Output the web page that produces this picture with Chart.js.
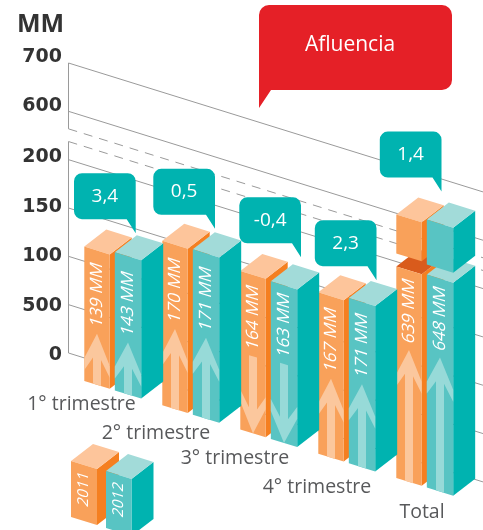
<!DOCTYPE html>
<html><head><meta charset="utf-8">
<style>html,body{margin:0;padding:0;background:#fff}canvas{display:block}</style>
<script src="https://cdn.jsdelivr.net/npm/chart.js@4/dist/chart.umd.js"></script>
</head><body><canvas id="c" width="483" height="530"></canvas>
<script>
const categories = ['1° trimestre','2° trimestre','3° trimestre','4° trimestre','Total'];
const values2011 = [139,170,164,167,639];
const values2012 = [143,171,163,171,648];
const changes = [3.4,0.5,-0.4,2.3,1.4];
const tickValues = [0,50,100,150,200,600,700];
const tickLabels = ['0','500','100','150','200','600','700'];
const breakMarks = [350,455];
const arrowLen2011 = [51,80,77,79,132];
const arrowLen2012 = [52,81,79,83,134];

const FONT = '"Open Sans", Lato, sans-serif';
const SHEAR = 0.311, DEPTH_X = 22, DEPTH_Y = -17, FLOOR_DROP = 23, AXIS_X = 68.5;
const labelShift = [1.8,1.8,-0.2,-0.7,-2.7,-5.7,-6.2];

class BrokenScale extends Chart.LinearScale {
  static id = 'broken';
  static defaults = Chart.LinearScale.defaults;
  getPixelForValue(v){
    const u = v<=200 ? v : v<600 ? 200+(v-200)/8 : 250+(v-600)/2;
    return this.getPixelForDecimal(u/300);
  }
  _computeLabelItems(ca){
    const items = super._computeLabelItems(ca);
    items.forEach((it,i)=>{ const t=it.options.translation; it.options.translation=[t[0],t[1]+labelShift[i]]; });
    return items;
  }
}
Chart.register(BrokenScale);

function poly(ctx,pts,fill){ ctx.beginPath(); pts.forEach((p,i)=>i?ctx.lineTo(p[0],p[1]):ctx.moveTo(p[0],p[1])); ctx.closePath(); ctx.fillStyle=fill; ctx.fill(); }

function box(ctx,l,f,w,h,c,topColor){
  const k=SHEAR*w, t=f-h;
  poly(ctx,[[l+w,f+k],[l+w+DEPTH_X,f+k+DEPTH_Y],[l+w+DEPTH_X,t+k+DEPTH_Y],[l+w,t+k]],c.side);
  poly(ctx,[[l,t],[l+DEPTH_X,t+DEPTH_Y],[l+w+DEPTH_X,t+k+DEPTH_Y],[l+w,t+k]],topColor||c.top);
  poly(ctx,[[l,f],[l+w,f+k],[l+w,t+k],[l,t]],c.front);
}
function floorOf(base,l){ return base+SHEAR*(l-AXIS_X)+FLOOR_DROP; }

Chart.BarElement.prototype.draw = function(ctx){
  const ds=this.$iso.ds, i=this.$iso.i, v=ds.data[i];
  const w=this.width, l=this.x-w/2, f=floorOf(this.base,l), h=this.base-this.y;
  const c={front:this.options.backgroundColor,side:ds.sideColor,top:ds.topColor};
  ctx.save();
  if(v>200){
    const lift=3, cube=ds.cubeHeight, gap=ds.breakGap;
    box(ctx,l,f,w,h+lift-cube-gap,c,ds.cutColor);
    const cf=f-(h+lift-cube);
    box(ctx,l,cf,w,cube,c);
  } else box(ctx,l,f,w,h,c);
  ctx.transform(1,SHEAR,0,1,l,f);
  const H=ds.arrowLen[i], m=w/2, a=ds.arrowColor, up=changes[i]>=0;
  const s=4;
  if(up) poly(ctx,[[m,-H],[w,-H+28],[w,-H+40],[m+s,-H+25],[m+s,0],[m-s,0],[m-s,-H+25],[0,-H+40],[0,-H+28]],a);
  else   poly(ctx,[[m,0],[w,-28],[w,-40],[m+s,-25],[m+s,-H],[m-s,-H],[m-s,-25],[0,-40],[0,-28]],a);
  ctx.translate(m,-H-7);
  ctx.rotate(-Math.PI/2);
  ctx.fillStyle='#fff'; ctx.font='400 17px '+FONT; ctx.textAlign='left'; ctx.textBaseline='middle';
  ctx.fillText(v+' MM',0,0);
  ctx.restore();
};

let painting=false;
const gridPlugin = { id:'isoGrid',
  beforeDatasetsDraw(chart){
    chart.data.datasets.forEach((d,di)=>chart.getDatasetMeta(di).data.forEach((el,i)=>{el.$iso={ds:d,i};}));
    const {ctx,scales:{y},width:W}=chart;
    ctx.save(); ctx.strokeStyle='#9a9a9a'; ctx.lineWidth=1;
    const line=(py,dash)=>{ ctx.setLineDash(dash); ctx.beginPath(); ctx.moveTo(AXIS_X,py); ctx.lineTo(W,py+SHEAR*(W-AXIS_X)); ctx.stroke(); };
    tickValues.forEach(v=>line(y.getPixelForValue(v),[]));
    breakMarks.forEach(v=>line(y.getPixelForValue(v),[9,7]));
    ctx.setLineDash([]);
    ctx.beginPath();
    ctx.moveTo(AXIS_X,y.getPixelForValue(700)); ctx.lineTo(AXIS_X,y.getPixelForValue(breakMarks[1]));
    ctx.moveTo(AXIS_X,y.getPixelForValue(breakMarks[0])); ctx.lineTo(AXIS_X,y.getPixelForValue(0));
    ctx.stroke();
    ctx.restore();
  },
  beforeDatasetDraw(){ return painting; }
};

function bubble(ctx,x0,y0,x1,y1,r,tipX,tipY,tail,tailLeft,fill){
  ctx.beginPath();
  ctx.moveTo(x0+r,y0); ctx.lineTo(x1-r,y0); ctx.arcTo(x1,y0,x1,y0+r,r);
  if(tailLeft){
    ctx.lineTo(x1,y1-r); ctx.arcTo(x1,y1,x1-r,y1,r);
    ctx.lineTo(x0+tail,y1); ctx.lineTo(tipX,tipY); ctx.lineTo(x0,y0+r); ctx.arcTo(x0,y0,x0+r,y0,r);
  } else {
    ctx.lineTo(tipX,tipY); ctx.lineTo(x1-tail,y1);
    ctx.lineTo(x0+r,y1); ctx.arcTo(x0,y1,x0,y1-r,r); ctx.lineTo(x0,y0+r); ctx.arcTo(x0,y0,x0+r,y0,r);
  }
  ctx.closePath(); ctx.fillStyle=fill; ctx.fill();
}

const bubbleDx = [7.7,9,17,14.5,1.5];
const bubbleDy = [-19,-20.5,-24,-17.7,-31];
const labelDx = [-31,-34.5,-33.5,-29.5,-2.5];
const labelDy = [15,19,20,25,26];

const overlayPlugin = { id:'overlay',
  afterDatasetsDraw(chart){
    const {ctx,scales:{x,y}}=chart, teal=chart.getDatasetMeta(1).data;
    painting=true;
    chart.getDatasetMeta(0).controller.draw();
    chart.getDatasetMeta(1).controller.draw();
    painting=false;
    ctx.save();
    ctx.textAlign='center'; ctx.textBaseline='middle';
    changes.forEach((ch,i)=>{
      const el=teal[i], l=el.x-el.width/2;
      const topY=floorOf(el.base,l)-(el.base-el.y);
      const tx=el.x+bubbleDx[i], ty=topY+bubbleDy[i];
      const x1=tx, x0=tx-61.7, y1=ty-14, y0=y1-46;
      bubble(ctx,x0,y0,x1,y1,8,tx,ty,9,false,'#00b3b0');
      ctx.fillStyle='#fff'; ctx.font='400 19px '+FONT;
      ctx.fillText(ch.toFixed(1).replace('.',','),(x0+x1)/2,(y0+y1)/2);
    });
    bubble(ctx,259,5,452,90,10,259,108,12,true,'#e52027');
    ctx.fillStyle='#fff'; ctx.font='400 21px '+FONT;
    ctx.fillText('Afluencia',350,45.5);
    ctx.fillStyle='#58595b'; ctx.font='400 19.5px '+FONT;
    categories.forEach((t,i)=>{
      const cx=x.getPixelForTick(i);
      ctx.fillText(t,cx+labelDx[i],floorOf(y.getPixelForValue(0),cx)+labelDy[i]);
    });
    ctx.fillStyle='#333'; ctx.font='700 25px '+FONT; ctx.textAlign='left';
    ctx.fillText('MM',17,25);
    const sets=chart.data.datasets, spots=[[71,517,26,56],[106,528,25.5,57]];
    sets.forEach((d,i)=>{
      const [l,f,w,h]=spots[i];
      box(ctx,l,f,w,h,{front:d.backgroundColor,side:d.sideColor,top:d.topColor});
      ctx.save();
      ctx.transform(1,SHEAR,0,1,l+w/2,f-h/2);
      ctx.rotate(-Math.PI/2);
      ctx.fillStyle='#fff'; ctx.textAlign='center'; ctx.font='400 15px '+FONT;
      ctx.fillText(d.label,0,0);
      ctx.restore();
    });
    ctx.restore();
  }
};

new Chart(document.getElementById('c'),{
  type:'bar',
  data:{ labels:categories, datasets:[
    { label:'2011', data:values2011, backgroundColor:'#f9a15a', sideColor:'#f57f20', topColor:'#fdc59b', cutColor:'#d95b1c',
      arrowColor:'#fbc79d', arrowLen:arrowLen2011, cubeHeight:39, breakGap:13, categoryPercentage:0.795, barPercentage:0.82, clip:false },
    { label:'2012', data:values2012, backgroundColor:'#58c4c3', sideColor:'#00b3b0', topColor:'#a2dbd9',
      arrowColor:'#97dad8', arrowLen:arrowLen2012, cubeHeight:45, breakGap:10, categoryPercentage:0.795, barPercentage:0.85, clip:false }
  ]},
  options:{
    responsive:false, animation:false, devicePixelRatio:1,
    layout:{padding:{top:63,bottom:177,left:0,right:19.5}},
    plugins:{legend:{display:false},tooltip:{enabled:false},title:{display:false}},
    scales:{
      x:{display:false,type:'category',offset:true,grid:{display:false}},
      y:{type:'broken',min:0,max:700,position:'left',
        afterFit(s){s.width=73.5;},
        afterBuildTicks(s){s.ticks=tickValues.map(value=>({value}));},
        grid:{display:false,drawTicks:false},border:{display:false},
        ticks:{autoSkip:false,padding:11.5,color:'#333',font:{family:'"DejaVu Sans", sans-serif',size:19,weight:'700'},
          callback:v=>tickLabels[tickValues.indexOf(v)]}
      }
    }
  },
  plugins:[gridPlugin,overlayPlugin]
});
</script></body></html>
